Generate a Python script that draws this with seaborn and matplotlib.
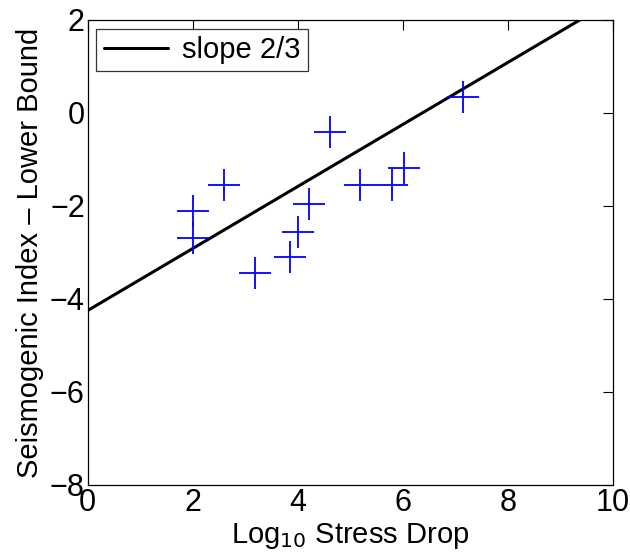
import matplotlib
matplotlib.use("Agg")
import matplotlib.pyplot as plt
import seaborn as sns
import pandas as pd

# data
stress_drop = [2.01, 2.01, 2.60, 3.18, 3.85, 4.01, 4.22, 4.62, 5.19, 5.80, 6.02, 7.14]
seis_index = [-2.11, -2.69, -1.54, -3.44, -3.10, -2.57, -1.96, -0.40, -1.56, -1.56, -1.18, 0.35]

# slope 2/3 reference line (end points)
line_x = [0.0, 10.0]
line_y = [-4.25, 2.42]

x_ticks = [0, 2, 4, 6, 8, 10]
y_ticks = [-8, -6, -4, -2, 0, 2]

sns.set_style("white")
plt.rcParams['font.family'] = ['Liberation Sans', 'DejaVu Sans']
plt.rcParams['text.color'] = 'black'
plt.rcParams['axes.labelcolor'] = 'black'

fig = plt.figure(figsize=(6.3, 5.53), dpi=100)
ax = fig.add_axes([0.139, 0.123, 0.834, 0.841])

pts = pd.DataFrame({'x': stress_drop, 'y': seis_index})
ln = pd.DataFrame({'x': line_x, 'y': line_y})

sns.lineplot(data=ln, x='x', y='y', color='black', linewidth=2.2,
             label='slope 2/3', ax=ax)
sns.scatterplot(data=pts, x='x', y='y', marker='+', s=560, color='blue',
                linewidth=1.3, ax=ax, legend=False, zorder=3)

ax.set_xlim(0, 10)
ax.set_ylim(-8, 2)
ax.set_xticks(x_ticks)
ax.set_yticks(y_ticks)
ax.set_yticklabels(['\u22128', '\u22126', '\u22124', '\u22122', '0', '2'])
ax.tick_params(direction='in', length=7, width=0.8, top=True, right=True,
               labelsize=22, pad=2, colors='black')
for sp in ax.spines.values():
    sp.set_color('black')
    sp.set_linewidth(0.9)

ax.set_xlabel('Log$_{10}$ Stress Drop', fontsize=21, labelpad=2)
ax.set_ylabel('Seismogenic Index \u2013 Lower Bound', fontsize=21, labelpad=4)

leg = ax.legend(loc='upper left', fontsize=21, frameon=True, fancybox=False,
                edgecolor='black', handlelength=2.2, borderpad=0.25,
                borderaxespad=0.3, handletextpad=0.5)
leg.get_frame().set_linewidth(0.9)

fig.savefig('out.png', dpi=100)
